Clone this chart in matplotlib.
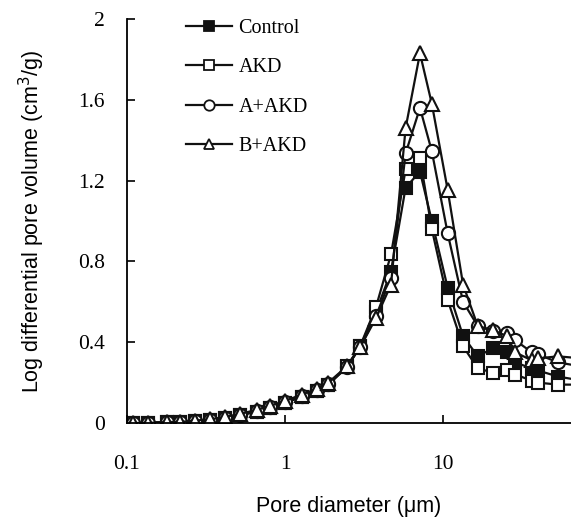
import matplotlib
matplotlib.use("Agg")
import matplotlib.pyplot as plt
from matplotlib.ticker import NullLocator

diameter = [0.109, 0.136, 0.178, 0.216, 0.269, 0.335, 0.417, 0.519, 0.662, 0.804,
            1.0, 1.275, 1.59, 1.88, 2.46, 2.99, 3.77, 4.69, 5.8, 7.15, 8.5, 10.7,
            13.4, 16.6, 20.7, 25.4, 28.6, 36.5, 39.8, 53.5, 75.0]

control = [0.0, 0.0, 0.005, 0.005, 0.01, 0.015, 0.025, 0.04, 0.055, 0.075,
           0.10, 0.13, 0.16, 0.19, 0.275, 0.38, 0.55, 0.75, 1.165, 1.245, 1.0, 0.67,
           0.43, 0.33, 0.37, 0.35, 0.30, 0.27, 0.26, 0.23, 0.21]
akd = [0.0, 0.0, 0.005, 0.005, 0.01, 0.015, 0.025, 0.04, 0.055, 0.075,
       0.10, 0.13, 0.16, 0.19, 0.28, 0.38, 0.575, 0.835, 1.255, 1.31, 0.96, 0.61,
       0.38, 0.27, 0.25, 0.26, 0.24, 0.21, 0.20, 0.19, 0.19]
a_akd = [0.0, 0.0, 0.005, 0.005, 0.01, 0.015, 0.025, 0.04, 0.06, 0.08,
         0.105, 0.135, 0.165, 0.195, 0.275, 0.375, 0.53, 0.72, 1.335, 1.56, 1.345, 0.94,
         0.60, 0.48, 0.455, 0.445, 0.41, 0.35, 0.34, 0.30, 0.28]
b_akd = [0.0, 0.0, 0.005, 0.005, 0.012, 0.018, 0.03, 0.045, 0.065, 0.085,
         0.11, 0.14, 0.17, 0.20, 0.28, 0.375, 0.52, 0.685, 1.46, 1.83, 1.58, 1.155,
         0.685, 0.48, 0.46, 0.43, 0.35, 0.31, 0.32, 0.33, 0.32]

series = [("Control", control, "s", "#111111"),
          ("AKD", akd, "s", "white"),
          ("A+AKD", a_akd, "o", "white"),
          ("B+AKD", b_akd, "^", "white")]

x_ticks = [0.1, 1, 10]
x_tick_labels = ["0.1", "1", "10"]
y_ticks = [0, 0.4, 0.8, 1.2, 1.6, 2.0]
y_tick_labels = ["0", "0.4", "0.8", "1.2", "1.6", "2"]

fig = plt.figure(figsize=(5.71, 5.20), dpi=100)
ax = fig.add_axes([127/571, 1-423/520, 444/571, (423-19)/520])

ms = {"s": 9.0, "o": 9.5, "^": 10.0}
for name, vals, mk, fc in series:
    ax.plot(diameter, vals, color="#111111", lw=1.6, marker=mk, markersize=ms[mk],
            markerfacecolor=fc, markeredgecolor="#111111", markeredgewidth=1.5,
            label=name)

ax.set_xscale("log")
ax.set_xlim(0.1, 64.6)
ax.set_ylim(0, 2)
ax.set_xticks(x_ticks)
ax.set_xticklabels(x_tick_labels)
ax.xaxis.set_minor_locator(NullLocator())
ax.set_yticks(y_ticks)
ax.set_yticklabels(y_tick_labels)

for sp in ["top", "right"]:
    ax.spines[sp].set_visible(False)
for sp in ["left", "bottom"]:
    ax.spines[sp].set_linewidth(1.3)
ax.tick_params(direction="in", length=6, width=1.2)
ax.tick_params(axis="x", pad=23)
ax.tick_params(axis="y", pad=16)
for lab in ax.get_xticklabels() + ax.get_yticklabels():
    lab.set_fontfamily("Liberation Serif")
    lab.set_fontsize(15.5)

ax.set_ylabel("Log differential pore volume (cm$^3$/g)", fontfamily="Liberation Sans",
              fontsize=15.5, labelpad=22)
ax.set_xlabel("Pore diameter (μm)", fontfamily="Liberation Sans", fontsize=15.5, labelpad=16)

leg = ax.legend(loc="upper left", bbox_to_anchor=(176/571, 1-9/520),
                bbox_transform=fig.transFigure, frameon=False,
                prop={"family": "Liberation Serif", "size": 14.5},
                handlelength=2.3, handletextpad=0.3, labelspacing=1.0, borderpad=0)
for h in leg.legend_handles:
    h.set_markersize(7.5)
    h.set_markeredgewidth(1.3)

fig.savefig("out.png", dpi=100)
